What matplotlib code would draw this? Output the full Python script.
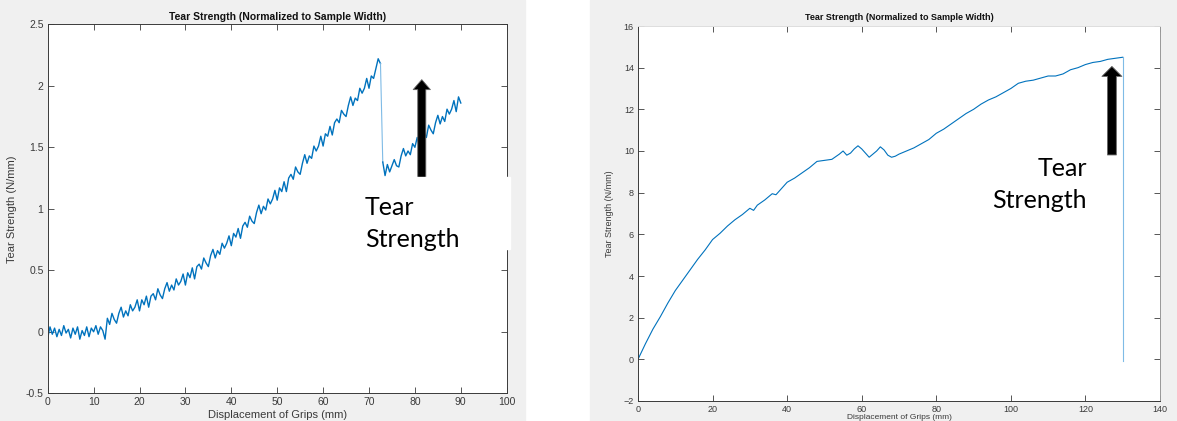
"""
Two MATLAB style tear strength curves side by side, with the tear point
marked by an arrow and a label.
"""

import numpy as np
import matplotlib.pyplot as plt
from matplotlib.patches import Rectangle

W, H = 1177, 421

# left test: noisy curve before the tear (0 .. 72.5 mm, every 0.5 mm)
left_x1 = np.arange(0, 72.51, 0.5)
left_y1 = [
    -0.05, 0.04, -0.02, 0.03, -0.04, 0.02, -0.03, 0.05, -0.01, 0.02,
    -0.05, 0.03, -0.02, 0.04, -0.06, 0.01, -0.03, 0.04, -0.04, 0.03,
    0.00, 0.05, -0.02, 0.04, 0.01,
    -0.06, 0.11, 0.06, 0.15, 0.10, 0.07, 0.15, 0.20, 0.12, 0.17,
    0.13, 0.22, 0.17, 0.20, 0.26, 0.17,
    0.26, 0.22, 0.29, 0.20, 0.29, 0.31, 0.26, 0.35, 0.30, 0.27,
    0.35, 0.40, 0.33, 0.38, 0.34, 0.43, 0.38, 0.41, 0.47, 0.38,
    0.48, 0.44, 0.52, 0.43, 0.53, 0.55, 0.51, 0.60, 0.56, 0.53,
    0.62, 0.67, 0.60, 0.66, 0.63, 0.72, 0.68, 0.72, 0.78, 0.70,
    0.80, 0.77, 0.84, 0.76, 0.86, 0.89, 0.85, 0.94, 0.90, 0.88,
    0.97, 1.03, 0.96, 1.02, 0.99, 1.08, 1.04, 1.08, 1.15, 1.07,
    1.17, 1.14, 1.22, 1.14, 1.25, 1.28, 1.24, 1.34, 1.30, 1.28,
    1.37, 1.44, 1.37, 1.43, 1.41, 1.51, 1.47, 1.51, 1.59, 1.51,
    1.61, 1.59, 1.67, 1.60, 1.70, 1.73, 1.70, 1.80, 1.77, 1.75,
    1.84, 1.91, 1.84, 1.90, 1.88, 1.98, 1.94, 1.98, 2.06, 1.98,
    2.08, 2.06, 2.14, 2.22, 2.18,
]

# left test: after the tear (73 .. 90 mm)
left_x2 = np.arange(73, 90.01, 0.5)
left_y2 = [
    1.38, 1.27, 1.36, 1.30, 1.35, 1.40, 1.35, 1.34, 1.43, 1.49,
    1.43, 1.47, 1.44, 1.53, 1.50, 1.58, 1.50, 1.59, 1.62, 1.58,
    1.68, 1.64, 1.61, 1.70, 1.76, 1.69, 1.75, 1.71, 1.81, 1.77,
    1.81, 1.88, 1.79, 1.91, 1.86,
]

# right test
right_x = [0, 2, 4, 6, 8, 10, 12, 14, 16, 18, 20, 22, 24, 26, 28, 30, 31, 32,
           34, 36, 37, 38, 40, 42, 44, 46, 48, 50, 52, 54, 55, 56, 57, 58, 59,
           60, 61, 62, 63, 64, 65, 66, 67, 68, 69, 70, 72, 74, 76, 78, 80, 82,
           84, 86, 88, 90, 92, 94, 96, 98, 100, 102, 104, 106, 108, 110, 112,
           114, 116, 118, 120, 122, 124, 126, 128, 130]
right_y = [0.0, 0.75, 1.45, 2.05, 2.7, 3.3, 3.8, 4.3, 4.8, 5.25, 5.75, 6.05,
           6.4, 6.7, 6.95, 7.25, 7.15, 7.4, 7.65, 7.95, 7.9, 8.1, 8.5, 8.7,
           8.95, 9.2, 9.5, 9.55, 9.6, 9.85, 10.0, 9.8, 9.9, 10.1, 10.25, 10.1,
           9.9, 9.7, 9.85, 10.0, 10.2, 10.05, 9.8, 9.7, 9.75, 9.85, 10.0, 10.15,
           10.35, 10.55, 10.85, 11.05, 11.3, 11.55, 11.8, 12.0, 12.25, 12.45,
           12.6, 12.8, 13.0, 13.25, 13.35, 13.4, 13.5, 13.6, 13.6, 13.7, 13.9,
           14.0, 14.15, 14.25, 14.3, 14.4, 14.45, 14.5]
right_drop_y = -0.1

left_xticks = np.arange(0, 101, 10)
left_yticks = [-0.5, 0, 0.5, 1, 1.5, 2, 2.5]
left_yticklabels = ['-0.5', '0', '0.5', '1', '1.5', '2', '2.5']
right_xticks = np.arange(0, 141, 20)
right_yticks = np.arange(-2, 17, 2)

title = 'Tear Strength (Normalized to Sample Width)'
xlabel = 'Displacement of Grips (mm)'
ylabel = 'Tear Strength (N/mm)'
note = 'Tear\nStrength'

blue = '#0072BD'
light_blue = '#7fbbe6'
fig_gray = '#f0f0f0'
ax_col = '#3a3a3a'


def px(x, y):
    """Figure pixel position (from top left) to figure fraction."""
    return x / W, 1 - y / H


def style_axes(ax, fs):
    ax.tick_params(direction='in', length=4, width=0.6, colors=ax_col,
                   labelsize=fs, top=True, right=True, pad=3)
    for s in ax.spines.values():
        s.set_color(ax_col)
        s.set_linewidth(0.7)


def main():
    plt.rcParams['font.family'] = ['Liberation Sans', 'DejaVu Sans']
    fig = plt.figure(figsize=(W / 100, H / 100), dpi=100)

    # grey MATLAB figure backgrounds
    fig.patches.append(Rectangle((0, 0), 525 / W, 1, transform=fig.transFigure,
                                 color=fig_gray, zorder=-10))
    fig.patches.append(Rectangle((590 / W, 0), 1 - 590 / W, 1,
                                 transform=fig.transFigure, color=fig_gray,
                                 zorder=-10))

    # left plot
    ax1 = fig.add_axes([47.7 / W, 27.7 / H, 459 / W, 369 / H])
    ax1.plot(left_x1, left_y1, color=blue, lw=1.0)
    ax1.plot([left_x1[-1], left_x2[0]], [left_y1[-1], left_y2[0]],
             color=light_blue, lw=0.8)
    ax1.plot(left_x2, left_y2, color=blue, lw=1.0)
    ax1.set_xlim(0, 100)
    ax1.set_ylim(-0.5, 2.5)
    ax1.set_xticks(left_xticks)
    ax1.set_yticks(left_yticks, left_yticklabels)
    style_axes(ax1, 7.5)
    ax1.set_title(title, fontsize=7.5, fontweight='bold', pad=3, color='#111111')
    ax1.set_xlabel(xlabel, fontsize=8, color=ax_col, labelpad=2)
    ax1.set_ylabel(ylabel, fontsize=8, color=ax_col, labelpad=6)
    ax1.annotate('', xy=(81.5, 2.05), xytext=(81.5, 1.14),
                 arrowprops=dict(arrowstyle='simple,head_length=0.36,'
                                 'head_width=0.62,tail_width=0.29',
                                 mutation_scale=20, fc='black', ec='#666666',
                                 lw=0.6, shrinkA=0, shrinkB=0))

    # white box pasted over the left plot, behind the label
    fig.patches.append(Rectangle(px(385, 249), 125 / W, 72 / H,
                                 transform=fig.transFigure, color='white',
                                 zorder=2))
    fig.text(*px(365, 247), note, fontsize=18, family=['Lato', 'DejaVu Sans'],
             ha='left', va='baseline', linespacing=1.45, zorder=3)

    # right plot
    ax2 = fig.add_axes([638 / W, 20 / H, 522 / W, 375 / H])
    ax2.plot(right_x, right_y, color=blue, lw=0.8)
    ax2.plot([right_x[-1], right_x[-1]], [right_y[-1], right_drop_y],
             color=light_blue, lw=0.8)
    ax2.set_xlim(0, 140)
    ax2.set_ylim(-2, 16)
    ax2.set_xticks(right_xticks)
    ax2.set_yticks(right_yticks)
    style_axes(ax2, 6.5)
    ax2.spines['top'].set_color('#dddddd')
    ax2.spines['right'].set_color('#999999')
    ax2.set_title(title, fontsize=6.5, fontweight='bold', pad=4, color='#111111')
    ax2.set_xlabel(xlabel, fontsize=6, color=ax_col, labelpad=0)
    ax2.set_ylabel(ylabel, fontsize=6.5, color=ax_col, labelpad=7)
    ax2.annotate('', xy=(127.1, 14.06), xytext=(127.1, 9.81),
                 arrowprops=dict(arrowstyle='simple,head_length=0.36,'
                                 'head_width=0.72,tail_width=0.32',
                                 mutation_scale=20, fc='black', ec='#666666',
                                 lw=0.6, shrinkA=0, shrinkB=0))
    fig.text(*px(1087, 208), note, fontsize=18, family=['Lato', 'DejaVu Sans'],
             ha='right', va='baseline', multialignment='right',
             linespacing=1.45, zorder=3)

    fig.savefig('out.png', dpi=100, facecolor='white')


if __name__ == '__main__':
    main()
